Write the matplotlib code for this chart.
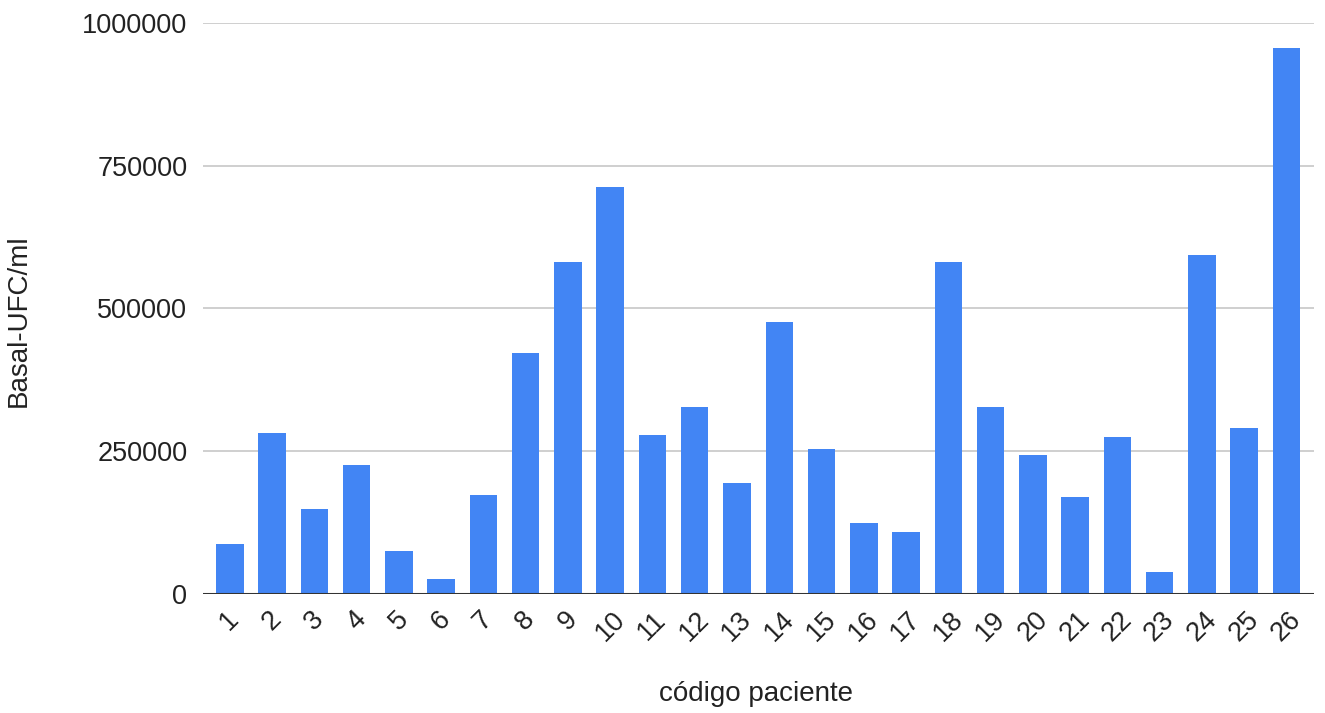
import numpy as np
import matplotlib.pyplot as plt

# patient codes and basal CFU/ml counts
pacientes = [str(i) for i in range(1, 27)]
ufc_basal = [87500, 282000, 148000, 226000, 75000, 26000, 172500, 422500,
             581500, 712000, 278000, 326500, 193500, 476000, 253500, 123500,
             108000, 581500, 326500, 242500, 169000, 274500, 39000, 593500,
             290500, 955500]

plt.rcParams['font.family'] = ['Liberation Sans', 'DejaVu Sans']
text_color = '#222222'

fig = plt.figure(figsize=(13.25, 7.13), dpi=100)
ax = fig.add_axes([0.153, 0.167, 0.839, 0.801])

x = np.arange(1, len(pacientes) + 1)
ax.bar(x, ufc_basal, width=0.65, color='#4285F4', zorder=3)

ax.set_xlim(0.36, 26.66)
ax.set_ylim(0, 1000000)
ax.set_yticks([0, 250000, 500000, 750000, 1000000])
ax.set_yticklabels(['0', '250000', '500000', '750000', '1000000'])
ax.set_xticks(x)
ax.set_xticklabels(pacientes, rotation=45, ha='center', va='top')

ax.grid(axis='y', color='#cccccc', linewidth=1.3, zorder=0)
ax.axhline(0, color='#333333', linewidth=2.2, zorder=4)
for side in ['top', 'right', 'left', 'bottom']:
    ax.spines[side].set_visible(False)

ax.tick_params(axis='y', length=0, pad=11, labelsize=19.5, labelcolor=text_color)
ax.tick_params(axis='x', length=0, pad=9, labelsize=19.5, labelcolor=text_color)

ax.set_xlabel('código paciente', fontsize=20, color=text_color)
ax.set_ylabel('Basal-UFC/ml', fontsize=20, color=text_color)
ax.xaxis.set_label_coords(0.498, -0.152)
ax.yaxis.set_label_coords(-0.154, 0.478)

fig.savefig('out.png', dpi=100)
